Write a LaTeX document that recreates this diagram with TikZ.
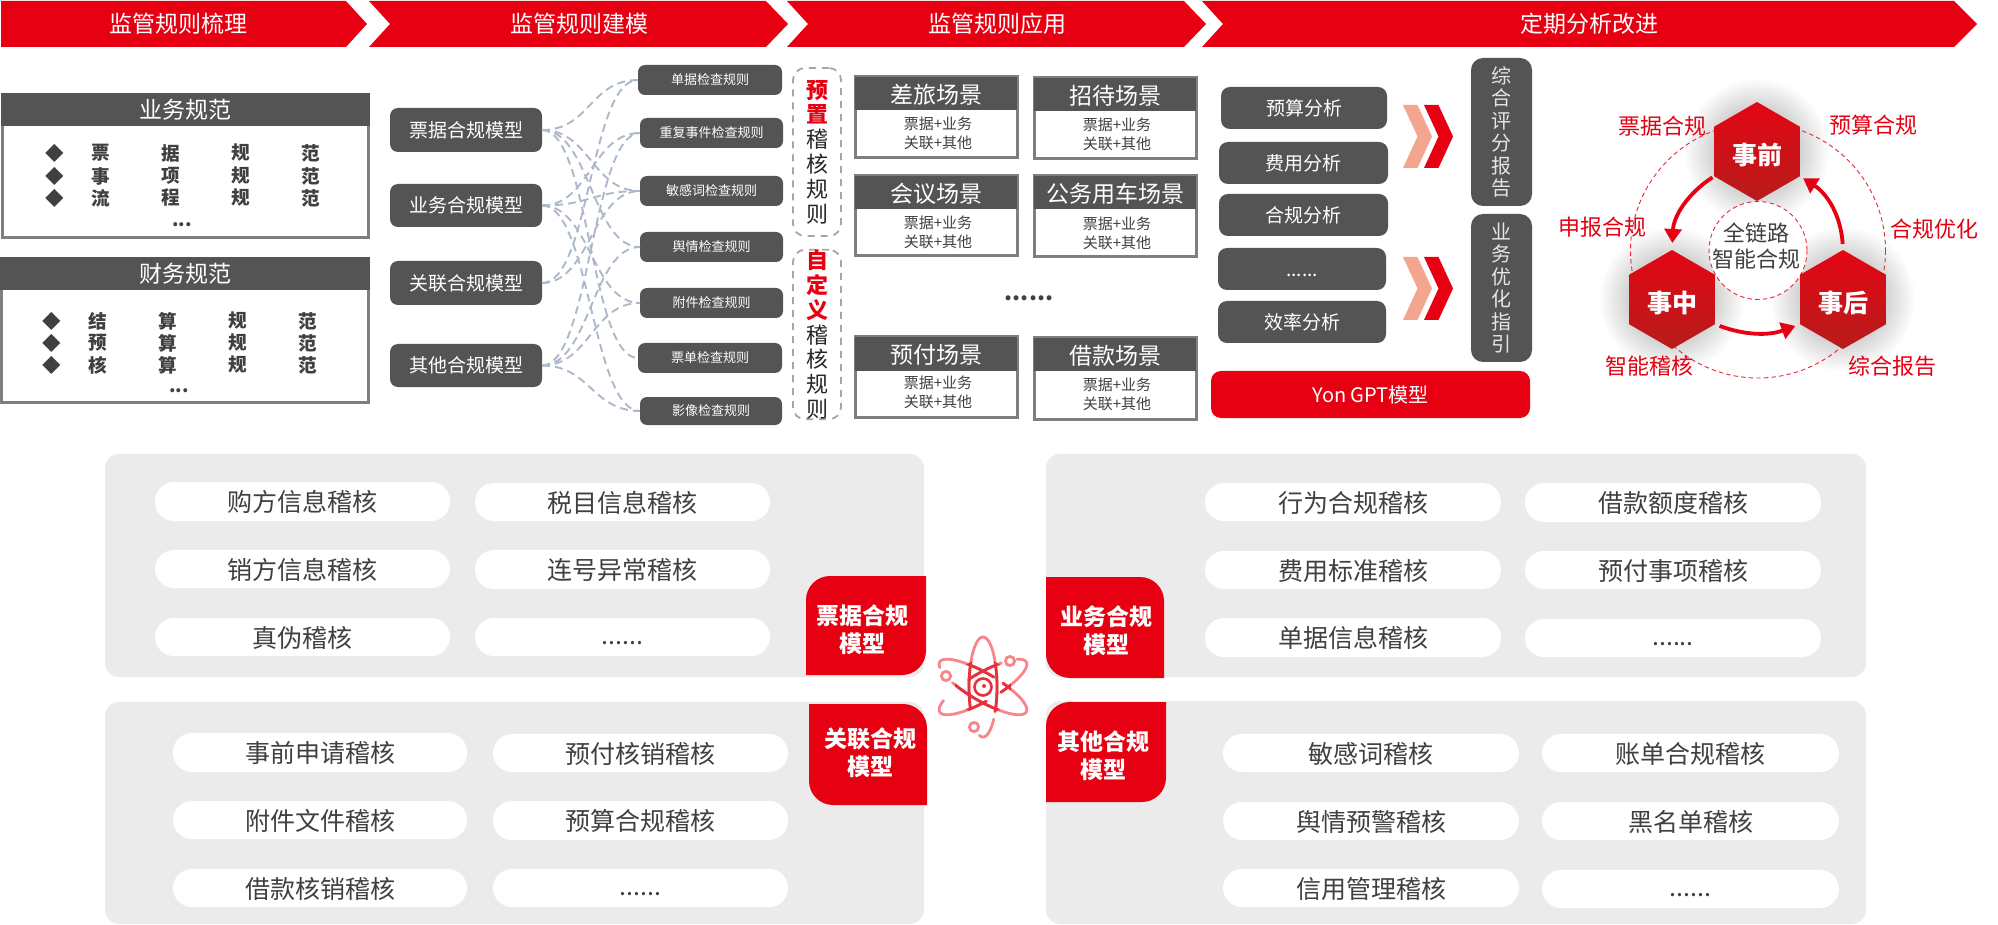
\documentclass[tikz,border=0pt]{standalone}
\usepackage{fontspec}
\setmainfont{Noto Sans CJK SC}
\usetikzlibrary{shapes.geometric,arrows.meta,calc}
\definecolor{brandred}{HTML}{E60012}
\definecolor{darkbox}{HTML}{545454}
\definecolor{framegray}{HTML}{7F7F7F}
\definecolor{panelgray}{HTML}{EBEBEB}
\definecolor{linkblue}{HTML}{ADB9CA}
\definecolor{textdark}{HTML}{404040}
\definecolor{chevlight}{HTML}{F4A58F}
\definecolor{atomlight}{HTML}{F7868C}
\definecolor{atomdark}{HTML}{E8303F}
\newcommand\sixdots{......}
\newcommand\pilldots{\raisebox{1.2pt}{......}}
\newcommand\fz[2]{\fontsize{#1}{#2}\selectfont}
\newcommand\bx[7]{%
  \pgfmathsetmacro\bxcx{(#3+#5)/2}\pgfmathsetmacro\bxcy{(#4+#6)/2}%
  \pgfmathsetmacro\bxw{(#5-#3)/2}\pgfmathsetmacro\bxh{(#6-#4)/2}%
  \node[#1,minimum width=\bxw pt,minimum height=\bxh pt] (#2) at (\bxcx,\bxcy) {#7};}
\newcommand\link[2]{\draw[linkline] (#1.east) .. controls +(48,0) and +(-48,0) .. (#2.west);}
\newcommand\scenebox[9]{% name x1 y1 ymid x2 y2 title line1y line2y
  \bx{framed}{#1f}{#2+1.5}{#3+1.5}{#5-1.5}{#6-1.5}{}
  \bx{headbar}{#1h}{#2}{#3}{#5}{#4}{#7}
  \pgfmathsetmacro\scx{(#2+#5)/2+2}
  \node[subtxt] (#1a) at (\scx,#8) {票据+业务};
  \node[subtxt] (#1b) at (\scx,#9) {关联+其他};}
\newcommand\tabA[5]{% rounded top-left and bottom-right
  \fill[brandred] ({#1+#5},#2) -- (#3,#2) -- (#3,{#4-#5})
    .. controls (#3,{#4-0.45*#5}) and ({#3-0.45*#5},#4) .. ({#3-#5},#4)
    -- (#1,#4) -- (#1,{#2+#5})
    .. controls (#1,{#2+0.45*#5}) and ({#1+0.45*#5},#2) .. cycle;}
\newcommand\tabB[5]{% rounded top-right and bottom-left
  \fill[brandred] (#1,#2) -- ({#3-#5},#2)
    .. controls ({#3-0.45*#5},#2) and (#3,{#2+0.45*#5}) .. (#3,{#2+#5})
    -- (#3,#4) -- ({#1+#5},#4)
    .. controls ({#1+0.45*#5},#4) and (#1,{#4-0.45*#5}) .. (#1,{#4-#5}) -- cycle;}
\newcommand\chev[4]{% color x y-top
  \fill[#1] (#2,#3) -- ({#2+14.5},#3) -- ({#2+29},{#3+31.5}) -- ({#2+14.5},{#3+63}) -- (#2,{#3+63}) -- ({#2+14.5},{#3+31.5}) -- cycle;}
\newcommand\atomseg[5]{% style angle from to
  \begin{scope}[shift={(983,687)},x=0.5pt,y=0.5pt,rotate=#2]
    \draw[#1] plot[domain=#3:#4,samples=36,smooth] ({50*cos(\x)},{#5*sin(\x)});
  \end{scope}}
\newcommand\atomall[1]{%
  \atomseg{#1}{90}{-120}{115}{14}
  \atomseg{#1}{90}{165}{230}{14}
  \atomseg{#1}{30}{56}{100}{14}
  \atomseg{#1}{30}{-75}{30}{14}
  \atomseg{#1}{30}{-215}{-95}{14}
  \atomseg{#1}{-30}{-125}{72}{14}
  \atomseg{#1}{-30}{85}{200}{14}}
\tikzset{
  x=0.5pt,y=-0.5pt,
  every node/.style={inner sep=0pt,outer sep=0pt},
  banner/.style={text=white,font=\fz{11.5}{14}},
  framed/.style={draw=framegray,line width=1.5pt,fill=white},
  headbar/.style={fill=darkbox,text=white,font=\fz{11.5}{14},text height=10.6pt,text depth=0.6pt},
  spechead/.style={fill=darkbox,text=white,font=\fz{11.5}{14}},
  speccell/.style={text=textdark,font=\bfseries\fz{9.3}{11}},
  subtxt/.style={text=textdark,font=\fz{7.5}{9}},
  modelbox/.style={fill=darkbox,text=white,rounded corners=4pt,font=\fz{9.5}{12}},
  rulebox/.style={fill=darkbox,text=white,rounded corners=3.5pt,font=\fz{6.5}{8}},
  analysisbox/.style={fill=darkbox,text=white,rounded corners=4.5pt,font=\fz{9.5}{12},text height=8.2pt,text depth=0.7pt},
  sidebar/.style={fill=darkbox,text=white!90!black,rounded corners=6pt,align=center,font=\fz{10}{11.25}},
  dashbox/.style={draw=black!35,line width=0.9pt,dash pattern=on 3.5pt off 3pt,rounded corners=6pt,align=center,text=black!85,font=\fz{11}{12.4}},
  linkline/.style={draw=linkblue,line width=0.95pt,dash pattern=on 4pt off 2.5pt},
  hexnode/.style={regular polygon,regular polygon sides=6,shape border rotate=30,minimum size=49.5pt,top color=hexa,bottom color=hexb,text=white,font=\bfseries\fz{12.5}{15},text height=13.5pt,text depth=0pt},
  hexlabel/.style={text=brandred,font=\fz{11}{13}},
  centerlabel/.style={text=textdark,font=\fz{11}{13}},
  dashring/.style={draw=brandred!85,line width=0.45pt,dash pattern=on 2.2pt off 1.6pt},
  cyclearrow/.style={draw=brandred,line width=1.9pt,-{Triangle[length=7pt,width=8.5pt]}},
  panel/.style={fill=panelgray,rounded corners=7pt},
  pill/.style={fill=white,rounded corners=9.5pt,text=textdark,font=\fz{12.5}{15},text height=11.1pt,text depth=0.8pt},
  tabtext/.style={text=white,align=center,font=\bfseries\fz{11.5}{14}},
  atomsmall/.style={draw=atomlight,line width=1.4pt},
}
\definecolor{hexa}{HTML}{E30613}
\definecolor{hexb}{HTML}{B71C1C}
\begin{document}
\begin{tikzpicture}
\useasboundingbox (0,0) rectangle (1998,925);
\fill[white] (0,0) rectangle (1998,925);

% banner
\fill[brandred] (1,1) -- (346,1) -- (367,24) -- (346,47) -- (1,47) -- cycle;
\fill[brandred] (369,1) -- (766,1) -- (788,24) -- (766,47) -- (369,47) -- (390,24) -- cycle;
\fill[brandred] (787,1) -- (1184,1) -- (1206,24) -- (1184,47) -- (787,47) -- (808,24) -- cycle;
\fill[brandred] (1202,1) -- (1954,1) -- (1977,24) -- (1954,47) -- (1202,47) -- (1223,24) -- cycle;
\node[banner] (b1) at (178,24) {监管规则梳理};
\node[banner] (b2) at (579,24) {监管规则建模};
\node[banner] (b3) at (997,24) {监管规则应用};
\node[banner] (b4) at (1589,24) {定期分析改进};

% specification boxes
\bx{framed}{sp1}{2.5}{94.5}{368.5}{238}{}
\bx{spechead}{sp1h}{1}{93}{370}{126}{业务规范}
\bx{framed}{sp2}{1.5}{258.5}{368.5}{402}{}
\bx{spechead}{sp2h}{0}{257}{370}{290}{财务规范}
\foreach \n/\yy/\ca/\cb/\cc/\cd in {1/153/票/据/规/范,2/176/事/项/规/范,3/198/流/程/规/范}{
  \node[speccell] (ad\n) at (55,\yy) {◆};
  \node[speccell] (aa\n) at (101,\yy) {\ca};
  \node[speccell] (ab\n) at (171,\yy) {\cb};
  \node[speccell] (ac\n) at (241,\yy) {\cc};
  \node[speccell] (ae\n) at (311,\yy) {\cd};
}
\node[speccell] (amore) at (182,225) {...};
\foreach \n/\yy/\ca/\cb/\cc/\cd in {1/321/结/算/规/范,2/343/预/算/规/范,3/365/核/算/规/范}{
  \node[speccell] (fd\n) at (52,\yy) {◆};
  \node[speccell] (fa\n) at (98,\yy) {\ca};
  \node[speccell] (fb\n) at (168,\yy) {\cb};
  \node[speccell] (fc\n) at (238,\yy) {\cc};
  \node[speccell] (fe\n) at (308,\yy) {\cd};
}
\node[speccell] (fmore) at (179,391) {...};

% models
\bx{modelbox}{m1}{390}{108}{542}{152}{票据合规模型}
\bx{modelbox}{m2}{390}{184}{542}{227}{业务合规模型}
\bx{modelbox}{m3}{390}{261}{542}{305}{关联合规模型}
\bx{modelbox}{m4}{390}{344}{542}{387}{其他合规模型}

% rules
\bx{rulebox}{r1}{638}{65}{782}{95}{单据检查规则}
\bx{rulebox}{r2}{640}{118}{783}{148}{重复事件检查规则}
\bx{rulebox}{r3}{640}{176}{783}{206}{敏感词检查规则}
\bx{rulebox}{r4}{640}{232}{783}{262}{舆情检查规则}
\bx{rulebox}{r5}{640}{288}{783}{318}{附件检查规则}
\bx{rulebox}{r6}{638}{343}{782}{373}{票单检查规则}
\bx{rulebox}{r7}{640}{397}{782}{425}{影像检查规则}

% links
\link{m1}{r1}\link{m1}{r3}\link{m1}{r4}\link{m1}{r6}
\link{m2}{r2}\link{m2}{r3}\link{m2}{r5}\link{m2}{r7}
\link{m3}{r1}\link{m3}{r3}
\link{m4}{r2}\link{m4}{r4}\link{m4}{r5}\link{m4}{r7}

% dashed rule groups
\bx{dashbox}{g1}{793}{68}{841}{236}{\textbf{\textcolor{brandred}{预}}\\\textbf{\textcolor{brandred}{置}}\\稽\\核\\规\\则}
\bx{dashbox}{g2}{793}{251}{841}{418}{\textbf{\textcolor{brandred}{自}}\\\textbf{\textcolor{brandred}{定}}\\\textbf{\textcolor{brandred}{义}}\\稽\\核\\规\\则}

% scenes
\scenebox{s1}{855}{77}{110}{1017}{158}{差旅场景}{124}{143}
\scenebox{s2}{1034}{78}{111}{1196}{159}{招待场景}{125}{144}
\scenebox{s3}{855}{176}{209}{1017}{256}{会议场景}{223}{242}
\scenebox{s4}{1034}{176}{209}{1196}{257}{公务用车场景}{224}{243}
\scenebox{s5}{855}{337}{371}{1017}{417}{预付场景}{383}{402}
\scenebox{s6}{1034}{338}{371}{1196}{419}{借款场景}{385}{404}
\node[text=textdark,font=\bfseries\fz{11.5}{15}] (sdots) at (1029,298) {\sixdots};

% analysis
\bx{analysisbox}{an1}{1221}{87}{1387}{129}{预算分析}
\bx{analysisbox}{an2}{1219}{142}{1388}{184}{费用分析}
\bx{analysisbox}{an3}{1219}{194}{1388}{236}{合规分析}
\bx{analysisbox}{an4}{1218}{248}{1386}{290}{\sixdots}
\bx{analysisbox}{an5}{1218}{301}{1386}{343}{效率分析}
\chev{chevlight}{1403}{105}{}
\chev{brandred}{1424}{105}{}
\chev{chevlight}{1403}{257}{}
\chev{brandred}{1424}{257}{}
\bx{sidebar}{sb1}{1471}{58}{1532}{206}{综\\合\\评\\分\\报\\告}
\bx{sidebar}{sb2}{1471}{214}{1532}{362}{业\\务\\优\\化\\指\\引}
\bx{fill=brandred,text=white,rounded corners=5pt,font=\fz{10}{12}}{yon}{1211}{371}{1530}{418}{Yon GPT模型}

% cycle diagram
\coordinate (cqian) at (1757,151.5);
\coordinate (czhong) at (1672,299.5);
\coordinate (chou) at (1843,299.5);
\foreach \cc in {cqian,czhong,chou}{
  \foreach \rr in {44,46,...,72}{
    \fill[black,opacity=0.010] (\cc) circle[radius=\rr];
  }
}
\coordinate (ccen) at (1758,250.5);
\draw[dashring] (ccen) circle[radius=127.5];
\node[circle,dashring,minimum size=49pt,fill=white] (ringsmall) at (ccen) {};
\node[hexnode] (qian) at (cqian) {事前};
\node[hexnode] (zhong) at (czhong) {事中};
\node[hexnode] (hou) at (chou) {事后};
\draw[cyclearrow,shorten <=1pt,shorten >=3.5pt] (qian.210) to[bend right=27] (zhong.90);
\draw[cyclearrow,shorten <=2.5pt,shorten >=2.5pt] (zhong.330) to[bend right=20] (hou.210);
\draw[cyclearrow,shorten <=3pt,shorten >=2pt] (hou.90) to[bend right=27] (qian.330);
\node[hexlabel] (l1) at (1662,126) {票据合规};
\node[hexlabel] (l2) at (1873,125) {预算合规};
\node[hexlabel] (l3) at (1602,227) {申报合规};
\node[hexlabel] (l4) at (1934,229) {合规优化};
\node[hexlabel] (l5) at (1649,366) {智能稽核};
\node[hexlabel] (l6) at (1892,366) {综合报告};
\node[centerlabel] (cl1) at (1756,233) {全链路};
\node[centerlabel] (cl2) at (1756,259) {智能合规};

% lower panels
\bx{panel}{ptl}{105}{454}{924}{677}{}
\bx{panel}{ptr}{1046}{454}{1866}{677}{}
\bx{panel}{pbl}{105}{702}{924}{924}{}
\bx{panel}{pbr}{1046}{701}{1866}{924}{}

\foreach \nm/\xa/\ya/\xb/\yb/\tx in {
  pa1/155/482/450/521/购方信息稽核,pa2/475/483/770/521/税目信息稽核,
  pa3/155/550/450/588/销方信息稽核,pa4/475/550/770/589/连号异常稽核,
  pa5/155/618/450/656/真伪稽核,pa6/475/618/770/656/\pilldots,
  pb1/1205/483/1501/521/行为合规稽核,pb2/1525/483/1821/522/借款额度稽核,
  pb3/1205/551/1501/589/费用标准稽核,pb4/1525/551/1821/589/预付事项稽核,
  pb5/1205/618/1501/657/单据信息稽核,pb6/1525/619/1821/657/\pilldots,
  pc1/173/733/467/772/事前申请稽核,pc2/493/734/788/772/预付核销稽核,
  pc3/173/801/467/839/附件文件稽核,pc4/493/801/788/840/预算合规稽核,
  pc5/173/869/467/907/借款核销稽核,pc6/493/869/788/907/\pilldots,
  pd1/1223/734/1519/772/敏感词稽核,pd2/1542/734/1839/772/账单合规稽核,
  pd3/1223/802/1519/840/舆情预警稽核,pd4/1542/802/1839/840/黑名单稽核,
  pd5/1223/869/1519/907/信用管理稽核,pd6/1542/870/1839/908/\pilldots}{
  \bx{pill}{\nm}{\xa}{\ya}{\xb}{\yb}{\tx}
}

% red tabs
\tabA{806}{576}{926}{675}{24}
\tabB{1046}{577}{1164}{678}{24}
\tabB{809}{704}{927}{805}{24}
\tabA{1046}{702}{1166}{802}{24}
\node[tabtext] (t1) at (862,630) {票据合规\\模型};
\node[tabtext] (t2) at (1106,631) {业务合规\\模型};
\node[tabtext] (t3) at (870,753) {关联合规\\模型};
\node[tabtext] (t4) at (1103,756) {其他合规\\模型};

% atom icon
\atomall{draw=atomlight,line width=1.4pt,line cap=round}
\begin{scope}
  \clip (983,687) circle (14pt);
  \atomall{draw=atomdark,line width=1.4pt,line cap=round}
\end{scope}
\node[circle,draw=atomdark,line width=1.3pt,minimum size=8.5pt] (nucleus) at (983,687) {};
\node[circle,fill=atomdark,minimum size=2pt] (nucdot) at (984,686) {};
\node[circle,atomsmall,minimum size=4.6pt] (e1) at (1010,661) {};
\node[circle,atomsmall,minimum size=4.6pt] (e2) at (946,676) {};
\node[circle,atomsmall,minimum size=4.6pt] (e3) at (974,727) {};
\end{tikzpicture}
\end{document}
